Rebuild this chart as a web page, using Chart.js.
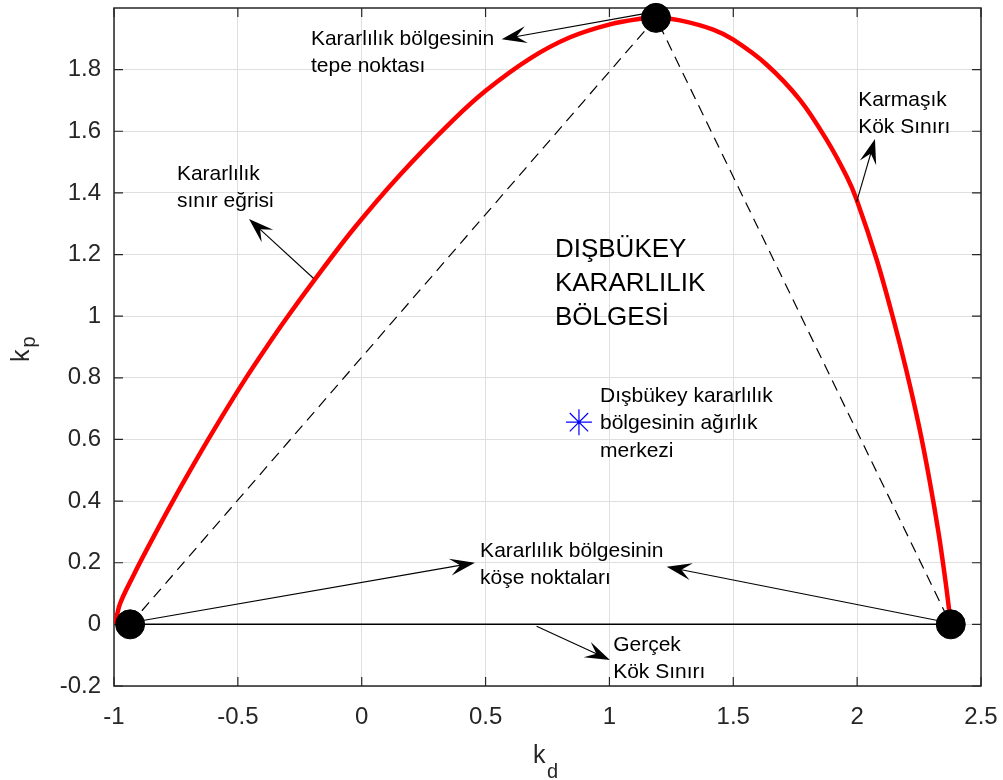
<!DOCTYPE html>
<html>
<head>
<meta charset="utf-8">
<script src="https://cdn.jsdelivr.net/npm/chart.js@4/dist/chart.umd.min.js"></script>
<style>
  html, body { margin: 0; padding: 0; background: #fff; }
</style>
</head>
<body>
<canvas id="grafik" width="1003" height="780"></canvas>
<script>
// kararlılık sınır eğrisi (kd, kp)
const kdEgri = [-0.995, -0.976, -0.922, -0.855, -0.774, -0.693, -0.599, -0.478, -0.384, -0.303, -0.195, -0.034, 0.155, 0.370, 0.504, 0.679, 0.841, 1.002, 1.123, 1.190, 1.285, 1.419, 1.500, 1.635, 1.769, 1.877, 1.958, 1.998, 2.079, 2.147, 2.198, 2.250, 2.292, 2.329, 2.356, 2.373, 2.378];
const kpEgri = [0.000, 0.066, 0.158, 0.262, 0.383, 0.499, 0.628, 0.786, 0.900, 0.994, 1.113, 1.282, 1.459, 1.637, 1.734, 1.836, 1.905, 1.947, 1.965, 1.969, 1.960, 1.930, 1.897, 1.816, 1.702, 1.572, 1.453, 1.378, 1.183, 0.988, 0.826, 0.642, 0.469, 0.295, 0.144, 0.036, 0.000];

// köşe noktaları (sol, tepe, sağ)
const kdKose = [-0.935, 1.188, 2.378];
const kpKose = [0, 1.968, 0];

// ağırlık merkezi
const kdMerkez = [0.877];
const kpMerkez = [0.656];

// eksen değerleri
const xTikler = [-1, -0.5, 0, 0.5, 1, 1.5, 2, 2.5];
const yTikler = [-0.2, 0, 0.2, 0.4, 0.6, 0.8, 1, 1.2, 1.4, 1.6, 1.8];

// açıklama yazıları (sol kenar, ilk satırın taban çizgisi)
const notlar = [
    { kd: -0.205, kp: 1.881, satirlar: ['Kararlılık bölgesinin', 'tepe noktası'], boyut: 21, aralik: 27 },
    { kd: -0.746, kp: 1.443, satirlar: ['Kararlılık', 'sınır eğrisi'], boyut: 21, aralik: 27 },
    { kd: 2.004, kp: 1.683, satirlar: ['Karmaşık', 'Kök Sınırı'], boyut: 21, aralik: 27 },
    { kd: 0.780, kp: 1.193, satirlar: ['DIŞBÜKEY', 'KARARLILIK', 'BÖLGESİ'], boyut: 26, aralik: 34 },
    { kd: 0.962, kp: 0.723, satirlar: ['Dışbükey kararlılık', 'bölgesinin ağırlık', 'merkezi'], boyut: 21, aralik: 27.5 },
    { kd: 0.478, kp: 0.219, satirlar: ['Kararlılık bölgesinin', 'köşe noktaları'], boyut: 21, aralik: 27.5 },
    { kd: 1.015, kp: -0.086, satirlar: ['Gerçek', 'Kök Sınırı'], boyut: 21, aralik: 27.5 }
];

// oklar: başlangıç -> uç
const oklar = [
    [1.136, 1.981, 0.565, 1.899],
    [-0.195, 1.123, -0.455, 1.315],
    [1.998, 1.371, 2.072, 1.575],
    [-0.895, 0.011, 0.457, 0.200],
    [2.335, 0.011, 1.231, 0.187],
    [0.706, -0.006, 1.002, -0.116]
];

const yazi = '"Liberation Sans", Arial, Helvetica, sans-serif';
const koyu = '#262626';

function noktalar(xs, ys) {
    return xs.map((x, i) => ({ x: x, y: ys[i] }));
}

function okCiz(ctx, x0, y0, x1, y1) {
    const aci = Math.atan2(y1 - y0, x1 - x0);
    const L = 25, W = 8.5;
    ctx.save();
    ctx.strokeStyle = '#000';
    ctx.fillStyle = '#000';
    ctx.lineWidth = 1.1;
    ctx.beginPath();
    ctx.moveTo(x0, y0);
    ctx.lineTo(x1 - Math.cos(aci) * L * 0.5, y1 - Math.sin(aci) * L * 0.5);
    ctx.stroke();
    ctx.translate(x1, y1);
    ctx.rotate(aci);
    ctx.beginPath();
    ctx.moveTo(0, 0);
    ctx.lineTo(-L, -W);
    ctx.lineTo(-L * 0.6, 0);
    ctx.lineTo(-L, W);
    ctx.closePath();
    ctx.fill();
    ctx.restore();
}

const eksenKutusu = {
    id: 'eksenKutusu',
    beforeDatasetsDraw(chart) {
        const { ctx, chartArea: a, scales: { x, y } } = chart;
        ctx.save();
        ctx.strokeStyle = koyu;
        ctx.lineWidth = 1.5;
        ctx.strokeRect(a.left, a.top, a.right - a.left, a.bottom - a.top);
        ctx.lineWidth = 1.2;
        ctx.beginPath();
        xTikler.forEach(v => {
            const px = x.getPixelForValue(v);
            ctx.moveTo(px, a.bottom); ctx.lineTo(px, a.bottom - 9);
            ctx.moveTo(px, a.top); ctx.lineTo(px, a.top + 9);
        });
        yTikler.forEach(v => {
            const py = y.getPixelForValue(v);
            ctx.moveTo(a.left, py); ctx.lineTo(a.left + 9, py);
            ctx.moveTo(a.right, py); ctx.lineTo(a.right - 9, py);
        });
        ctx.stroke();
        ctx.restore();
    },
    afterDraw(chart) {
        const { ctx, scales: { x, y } } = chart;
        ctx.save();
        oklar.forEach(o => okCiz(ctx, x.getPixelForValue(o[0]), y.getPixelForValue(o[1]),
            x.getPixelForValue(o[2]), y.getPixelForValue(o[3])));

        ctx.fillStyle = '#000';
        ctx.textAlign = 'left';
        ctx.textBaseline = 'alphabetic';
        notlar.forEach(n => {
            ctx.font = n.boyut + 'px ' + yazi;
            const px = x.getPixelForValue(n.kd);
            const py = y.getPixelForValue(n.kp);
            n.satirlar.forEach((s, i) => ctx.fillText(s, px, py + i * n.aralik));
        });

        // eksen adları
        ctx.fillStyle = koyu;
        ctx.font = '25px ' + yazi;
        ctx.fillText('k', 533, 763);
        ctx.font = '20px ' + yazi;
        ctx.fillText('d', 547, 778);

        ctx.translate(29, 362);
        ctx.rotate(-Math.PI / 2);
        ctx.font = '25px ' + yazi;
        ctx.fillText('k', 0, 0);
        const kw = ctx.measureText('k').width;
        ctx.font = '20px ' + yazi;
        ctx.fillText('p', kw + 2, 6);
        ctx.restore();
    }
};

const ctx = document.getElementById('grafik').getContext('2d');
new Chart(ctx, {
    type: 'scatter',
    data: {
        datasets: [
            {
                label: 'köşeler',
                data: noktalar(kdKose, kpKose),
                showLine: false,
                pointRadius: 14.5,
                pointBackgroundColor: '#000',
                pointBorderColor: '#000',
                pointBorderWidth: 1,
                clip: false,
                order: 0
            },
            {
                label: 'ağırlık merkezi',
                data: noktalar(kdMerkez, kpMerkez),
                showLine: false,
                pointStyle: 'star',
                pointRadius: 13,
                pointBorderColor: '#0000ff',
                pointBackgroundColor: '#0000ff',
                pointBorderWidth: 1.2,
                order: 1
            },
            {
                label: 'üçgen',
                data: noktalar(kdKose, kpKose),
                showLine: true,
                borderColor: '#000',
                borderWidth: 1.2,
                borderDash: [11, 7],
                pointRadius: 0,
                order: 2
            },
            {
                label: 'sınır eğrisi',
                data: noktalar(kdEgri, kpEgri),
                showLine: true,
                borderColor: '#ff0000',
                borderWidth: 4.5,
                tension: 0.35,
                pointRadius: 0,
                order: 3
            },
            {
                label: 'gerçek kök sınırı',
                data: noktalar([kdKose[0], kdKose[2]], [kpKose[0], kpKose[2]]),
                showLine: true,
                borderColor: '#000',
                borderWidth: 1.5,
                pointRadius: 0,
                order: 4
            }
        ]
    },
    options: {
        responsive: false,
        animation: false,
        layout: { autoPadding: false, padding: { top: 8, right: 22, left: 0, bottom: 0 } },
        plugins: {
            legend: { display: false },
            tooltip: { enabled: false }
        },
        scales: {
            x: {
                type: 'linear',
                min: -1,
                max: 2.5,
                afterBuildTicks: s => { s.ticks = xTikler.map(v => ({ value: v })); },
                afterFit: s => { s.height = 94; s.paddingLeft = 0; s.paddingRight = 0; },
                grid: { color: '#dfdfdf', lineWidth: 1, drawTicks: false },
                border: { display: false },
                ticks: {
                    padding: 17,
                    color: koyu,
                    font: { family: yazi, size: 24 },
                    callback: v => String(v)
                }
            },
            y: {
                type: 'linear',
                min: -0.2,
                max: 2.0,
                afterBuildTicks: s => { s.ticks = yTikler.map(v => ({ value: v })); },
                afterFit: s => { s.width = 114; s.paddingTop = 0; s.paddingBottom = 0; },
                grid: { color: '#dfdfdf', lineWidth: 1, drawTicks: false },
                border: { display: false },
                ticks: {
                    padding: 13,
                    color: koyu,
                    font: { family: yazi, size: 24 },
                    callback: v => String(v)
                }
            }
        }
    },
    plugins: [eksenKutusu]
});
</script>
</body>
</html>
